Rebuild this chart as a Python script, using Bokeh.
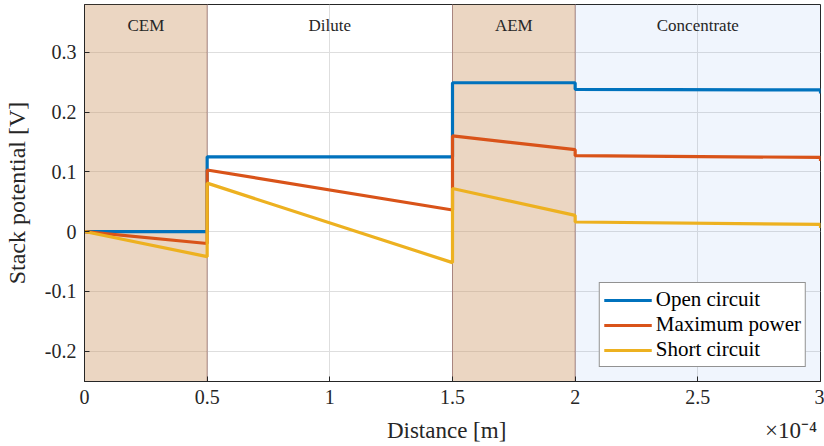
from bokeh.plotting import figure
from bokeh.models import (Range1d, FixedTicker, Legend, LegendItem, ColumnDataSource)
from bokeh.core.properties import value
from bokeh.embed import file_html
from bokeh.resources import INLINE

# ---- data (distance in units of 1e-4 m) ----
distance = [0.0, 0.5, 0.5, 1.5, 1.5, 2.0, 2.0, 3.0, 3.0]
open_circuit = [0.0, 0.0, 0.125, 0.125, 0.249, 0.249, 0.238, 0.237, 0.231]
maximum_power = [0.0, -0.020, 0.103, 0.036, 0.160, 0.137, 0.127, 0.124, 0.118]
short_circuit = [0.0, -0.042, 0.081, -0.052, 0.072, 0.027, 0.016, 0.012, 0.006]

region_names = ["CEM", "Dilute", "AEM", "Concentrate"]
region_start = [0.0, 0.5, 1.5, 2.0]
region_end = [0.5, 1.5, 2.0, 3.0]
region_colors = ["#cc9966", "#ffffff", "#cc9966", "#699beb"]
region_alpha = [0.4, 0.0, 0.4, 0.1]

x_ticks = [0, 0.5, 1, 1.5, 2, 2.5, 3]
x_tick_labels = ["0", "0.5", "1", "1.5", "2", "2.5", "3"]
y_ticks = [-0.2, -0.1, 0, 0.1, 0.2, 0.3]
y_tick_labels = ["-0.2", "-0.1", "0", "0.1", "0.2", "0.3"]

series_names = ["Open circuit", "Maximum power", "Short circuit"]
series_colors = ["#0072BD", "#D95319", "#EDB120"]

x_label = "Distance [m]"
x_multiplier = "×10⁻⁴"
y_label = "Stack potential [V]"

FONT = "Liberation Serif"
DARK = "#262626"
Y0, Y1 = -0.251, 0.38
NB = "\u00a0"

p = figure(width=824, height=446, output_backend="svg", toolbar_location=None,
           x_range=Range1d(0, 3), y_range=Range1d(Y0, Y1),
           min_border_left=10, min_border_right=4, min_border_top=4, min_border_bottom=65)
p.background_fill_color = "white"
p.border_fill_color = "white"
p.outline_line_color = DARK
p.outline_line_width = 1

# regions
reg = ColumnDataSource(dict(left=region_start, right=region_end, color=region_colors,
                            alpha=region_alpha, name=region_names,
                            mid=[(a + b) / 2 for a, b in zip(region_start, region_end)]))
p.quad(left="left", right="right", bottom=Y0, top=Y1, source=reg,
       fill_color="color", fill_alpha="alpha", line_color=None)
for xb in [0.0, 0.5, 1.5, 2.0]:
    p.segment(x0=[xb], x1=[xb], y0=[Y0], y1=[Y1], line_color="#6b2a2a",
              line_dash="1 1", line_width=1, line_alpha=0.9)

p.text(x="mid", y=0.345, text="name", source=reg, text_font=value(FONT),
       text_font_size="17px", text_align="center", text_baseline="middle",
       text_color=DARK)

# series
renderers = []
for ys, c in zip([open_circuit, maximum_power, short_circuit], series_colors):
    r = p.line(distance, ys, line_color=c, line_width=3.2)
    renderers.append(r)

legend = Legend(items=[LegendItem(label=n, renderers=[r]) for n, r in zip(series_names, renderers)],
                location="bottom_right")
legend.label_text_font = FONT
legend.label_text_font_size = "21px"
legend.label_text_color = "black"
legend.glyph_width = 48
legend.glyph_height = 18
legend.label_height = 18
legend.label_standoff = 4
legend.spacing = 0
legend.padding = 4
legend.margin = 14
legend.border_line_color = DARK
legend.border_line_width = 1
legend.background_fill_color = "white"
legend.background_fill_alpha = 1
p.add_layout(legend)

# axes
p.xaxis.ticker = FixedTicker(ticks=x_ticks)
p.xaxis.major_label_overrides = {t: l for t, l in zip(x_ticks, x_tick_labels)}
p.yaxis.ticker = FixedTicker(ticks=y_ticks)
p.yaxis.major_label_overrides = {t: l for t, l in zip(y_ticks, y_tick_labels)}
for ax in (p.xaxis[0], p.yaxis[0]):
    ax.axis_line_color = DARK
    ax.major_tick_line_color = DARK
    ax.major_tick_in = 5
    ax.major_tick_out = 0
    ax.minor_tick_line_color = None
    ax.major_label_text_font = FONT
    ax.major_label_text_font_size = "20px"
    ax.major_label_text_color = DARK
    ax.axis_label_text_font = FONT
    ax.axis_label_text_font_style = "normal"
    ax.axis_label_text_color = DARK
p.xaxis.axis_label_text_font_size = "23px"
p.yaxis.axis_label_text_font_size = "24px"
# x label with the ×10⁻⁴ exponent placed at the right end of the same row
p.xaxis.axis_label = NB * 52 + x_label + NB * 45 + x_multiplier
p.yaxis.axis_label = y_label
p.xaxis.major_label_standoff = 8
p.yaxis.major_label_standoff = 8
p.xaxis.axis_label_standoff = 11
p.yaxis.axis_label_standoff = 12

p.grid.grid_line_color = "#dedede"
p.grid.grid_line_width = 1
p.xgrid.ticker = FixedTicker(ticks=x_ticks)
p.ygrid.ticker = FixedTicker(ticks=y_ticks)

open("out.html", "w").write(file_html(p, INLINE))
